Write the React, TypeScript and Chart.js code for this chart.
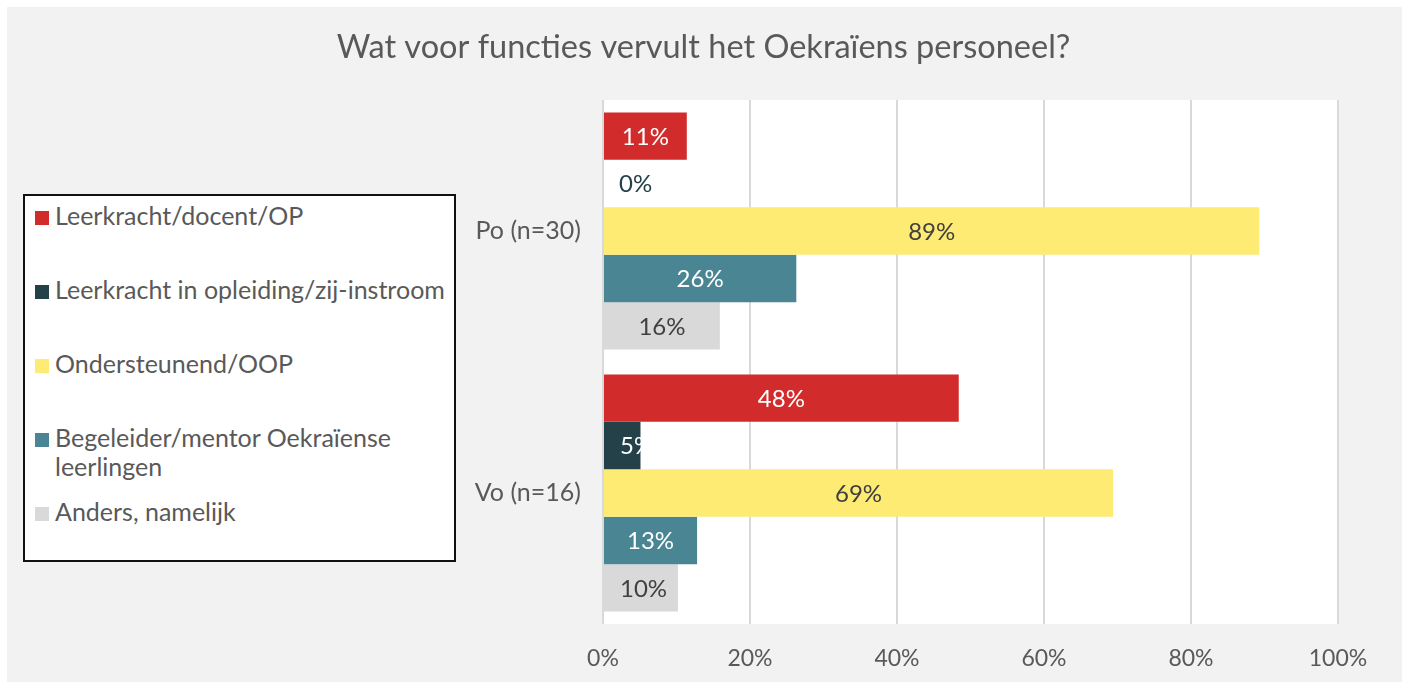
import React, { useEffect, useRef } from "react";
import { Chart, registerables } from "chart.js";

Chart.register(...registerables);

const chartTitle = "Wat voor functies vervult het Oekraïens personeel?";
const categories = ["Po (n=30)", "Vo (n=16)"];
const seriesNames = [
  "Leerkracht/docent/OP",
  "Leerkracht in opleiding/zij-instroom",
  "Ondersteunend/OOP",
  "Begeleider/mentor Oekraïense leerlingen",
  "Anders, namelijk",
];
const leerkracht = [11.4, 48.4];
const inOpleiding = [0, 5.1];
const ondersteunend = [89.3, 69.4];
const begeleider = [26.3, 12.8];
const anders = [15.9, 10.2];
const xTicks = [0, 20, 40, 60, 80, 100];

const seriesValues = [leerkracht, inOpleiding, ondersteunend, begeleider, anders];
const seriesColors = ["#d22b2b", "#24414a", "#feeb73", "#4a8593", "#d9d9d9"];
const labelColors = ["#ffffff", "#ffffff", "#404040", "#ffffff", "#404040"];

const FONT = "Lato, 'Open Sans', sans-serif";
const TEXT = "#595959";

const plotBg = {
  id: "plotBg",
  beforeDraw(chart: any) {
    const { ctx, chartArea: a } = chart;
    ctx.save();
    ctx.fillStyle = "#ffffff";
    ctx.fillRect(a.left, a.top, a.right - a.left, a.bottom - a.top);
    ctx.restore();
  },
};

const titlePlugin = {
  id: "centeredTitle",
  afterDraw(chart: any) {
    const { ctx, width } = chart;
    ctx.save();
    ctx.font = `32.5px ${FONT}`;
    ctx.fillStyle = TEXT;
    ctx.textAlign = "center";
    ctx.textBaseline = "middle";
    ctx.fillText(chartTitle, width / 2 - 1, 41);
    ctx.restore();
  },
};

const barLabels = {
  id: "barLabels",
  afterDatasetsDraw(chart: any) {
    const { ctx } = chart;
    ctx.save();
    ctx.font = `24px ${FONT}`;
    ctx.textBaseline = "middle";
    ctx.textAlign = "center";
    chart.data.datasets.forEach((ds: any, di: number) => {
      const meta = chart.getDatasetMeta(di);
      meta.data.forEach((bar: any, i: number) => {
        const v = ds.data[i];
        const { x, base, y } = bar.getProps(["x", "base", "y"], true);
        const txt = `${Math.round(v)}%`;
        const w = ctx.measureText(txt).width;
        const cx = Math.max((x + base) / 2, base + 16 + w / 2);
        ctx.fillStyle = v === 0 ? seriesColors[di] : labelColors[di];
        ctx.fillText(txt, cx, y + 1);
      });
    });
    ctx.restore();
  },
};

function Legend() {
  return (
    <div
      style={{
        position: "absolute",
        left: 23,
        top: 194,
        width: 433,
        height: 368,
        boxSizing: "border-box",
        border: "2px solid #111",
        background: "#ffffff",
        fontFamily: FONT,
        fontSize: 25,
        color: TEXT,
      }}
    >
      {seriesNames.map((name, i) => (
        <div
          key={name}
          style={{
            position: "absolute",
            left: 10,
            top: 5 + i * 74,
            display: "flex",
            alignItems: "flex-start",
          }}
        >
          <div
            style={{
              width: 14,
              height: 14,
              marginTop: 10,
              marginRight: 6,
              background: seriesColors[i],
              flex: "none",
            }}
          />
          <div style={{ lineHeight: "29px", width: 398 }}>{name}</div>
        </div>
      ))}
    </div>
  );
}

export default function App() {
  const ref = useRef<HTMLCanvasElement | null>(null);

  useEffect(() => {
    document.body.style.margin = "0";
    const chart = new Chart(ref.current as HTMLCanvasElement, {
      type: "bar",
      data: {
        labels: categories,
        datasets: seriesValues.map((vals, i) => ({
          label: seriesNames[i],
          data: vals,
          backgroundColor: seriesColors[i],
          borderWidth: 0,
          barPercentage: 1,
          categoryPercentage: 0.905,
        })),
      },
      options: {
        indexAxis: "y",
        animation: false,
        responsive: false,
        layout: { padding: { left: 0, right: 64, top: 93, bottom: 0 } },
        plugins: {
          legend: { display: false },
          tooltip: { enabled: false },
          title: { display: false },
        },
        scales: {
          x: {
            min: 0,
            max: 100,
            afterBuildTicks: (scale: any) => {
              scale.ticks = xTicks.map((v) => ({ value: v }));
            },
            afterFit: (scale: any) => {
              scale.height = 58;
            },
            grid: { color: "#d9d9d9", lineWidth: 2, drawTicks: false },
            border: { display: false },
            ticks: {
              padding: 21,
              color: TEXT,
              font: { family: FONT, size: 23 },
              callback: (v: any) => `${v}%`,
            },
          },
          y: {
            afterFit: (scale: any) => {
              scale.width = 596;
            },
            grid: { display: false, drawTicks: false },
            border: { display: false },
            ticks: {
              padding: 22,
              color: TEXT,
              font: { family: FONT, size: 25 },
            },
          },
        },
      },
      plugins: [plotBg, barLabels, titlePlugin],
    });
    return () => chart.destroy();
  }, []);

  return (
    <div style={{ position: "relative", width: 1402, height: 682, background: "#ffffff" }}>
      <div
        style={{
          position: "absolute",
          left: 7,
          top: 7,
          width: 1395,
          height: 675,
          background: "#f2f2f2",
        }}
      >
        <canvas ref={ref} width={1395} height={675} style={{ display: "block" }} />
      </div>
      <Legend />
    </div>
  );
}
